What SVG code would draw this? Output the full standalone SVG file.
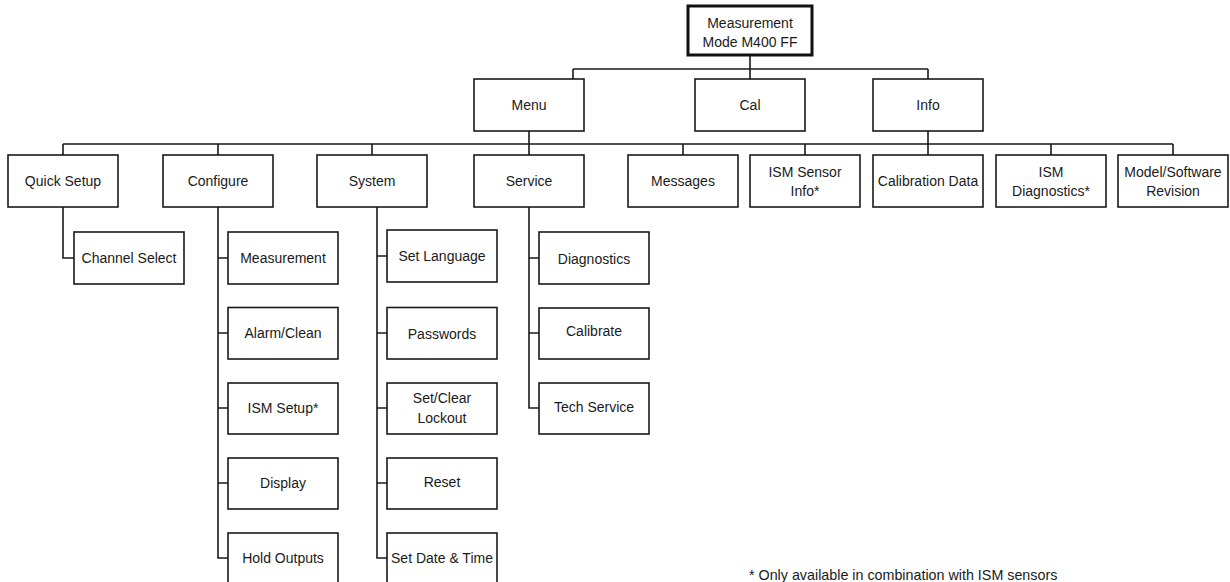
<svg xmlns="http://www.w3.org/2000/svg" width="1230" height="582" viewBox="0 0 1230 582">
<style>
.b{fill:#fff;stroke:#1a1a1a;stroke-width:1.6}
.top{fill:#fff;stroke:#111;stroke-width:3}
.t{font-family:"Liberation Sans",Arial,sans-serif;font-size:14px;fill:#1a1a1a;text-anchor:middle}
.c{fill:none;stroke:#1a1a1a;stroke-width:1.6}
.fn{font-family:"Liberation Sans",Arial,sans-serif;font-size:14.3px;fill:#1a1a1a}
</style>
<rect width="1230" height="582" fill="#fff"/>
<g id="connectors">
<path class="c" d="M750 55V69M573 69H928M573 69V79M750 69V79M928 69V79"/>
<path class="c" d="M529 131V144M928 131V144M63 144H1173M63 144V155M218 144V155M372 144V155M529 144V155M683 144V155M805 144V155M928 144V155M1051 144V155M1173 144V155"/>
<path class="c" d="M63 207V258H74"/>
<path class="c" d="M218 207V558H228M218 258H228M218 333H228M218 408H228M218 483H228"/>
<path class="c" d="M377 207V558H387M377 256H387M377 333H387M377 408H387M377 483H387"/>
<path class="c" d="M529 207V408H539M529 258H539M529 333H539"/>
</g>
<g id="n-measurement"><rect class="top" x="688" y="6" width="124" height="49"/><text class="t" x="750" y="28">Measurement</text><text class="t" x="750" y="47">Mode M400 FF</text></g>
<g id="n-menu"><rect class="b" x="474" y="79" width="110" height="52"/><text class="t" x="529" y="110">Menu</text></g>
<g id="n-cal"><rect class="b" x="695" y="79" width="110" height="52"/><text class="t" x="750" y="110">Cal</text></g>
<g id="n-info"><rect class="b" x="873" y="79" width="110" height="52"/><text class="t" x="928" y="110">Info</text></g>
<g id="n-quicksetup"><rect class="b" x="8" y="155" width="110" height="52"/><text class="t" x="63" y="186">Quick Setup</text></g>
<g id="n-configure"><rect class="b" x="163" y="155" width="110" height="52"/><text class="t" x="218" y="186">Configure</text></g>
<g id="n-system"><rect class="b" x="317" y="155" width="110" height="52"/><text class="t" x="372" y="186">System</text></g>
<g id="n-service"><rect class="b" x="474" y="155" width="110" height="52"/><text class="t" x="529" y="186">Service</text></g>
<g id="n-messages"><rect class="b" x="628" y="155" width="110" height="52"/><text class="t" x="683" y="186">Messages</text></g>
<g id="n-ismsensor"><rect class="b" x="750" y="155" width="110" height="52"/><text class="t" x="805" y="177">ISM Sensor</text><text class="t" x="805" y="196">Info*</text></g>
<g id="n-caldata"><rect class="b" x="873" y="155" width="110" height="52"/><text class="t" x="928" y="186">Calibration Data</text></g>
<g id="n-ismdiag"><rect class="b" x="996" y="155" width="110" height="52"/><text class="t" x="1051" y="177">ISM</text><text class="t" x="1051" y="196">Diagnostics*</text></g>
<g id="n-model"><rect class="b" x="1118" y="155" width="110" height="52"/><text class="t" x="1173" y="177">Model/Software</text><text class="t" x="1173" y="196">Revision</text></g>
<g id="n-channel"><rect class="b" x="74" y="232" width="110" height="52"/><text class="t" x="129" y="263">Channel Select</text></g>
<g id="n-measurement2"><rect class="b" x="228" y="232" width="110" height="52"/><text class="t" x="283" y="263">Measurement</text></g>
<g id="n-alarm"><rect class="b" x="228" y="307.5" width="110" height="51.5"/><text class="t" x="283" y="338">Alarm/Clean</text></g>
<g id="n-ismsetup"><rect class="b" x="228" y="383" width="110" height="51"/><text class="t" x="283" y="413">ISM Setup*</text></g>
<g id="n-display"><rect class="b" x="228" y="458" width="110" height="51"/><text class="t" x="283" y="488">Display</text></g>
<g id="n-hold"><rect class="b" x="228" y="533" width="110" height="52"/><text class="t" x="283" y="563">Hold Outputs</text></g>
<g id="n-lang"><rect class="b" x="387" y="230" width="110" height="52"/><text class="t" x="442" y="261">Set Language</text></g>
<g id="n-pass"><rect class="b" x="387" y="307.5" width="110" height="51.5"/><text class="t" x="442" y="339">Passwords</text></g>
<g id="n-lockout"><rect class="b" x="387" y="383" width="110" height="51"/><text class="t" x="442" y="403">Set/Clear</text><text class="t" x="442" y="423">Lockout</text></g>
<g id="n-reset"><rect class="b" x="387" y="458" width="110" height="51"/><text class="t" x="442" y="487">Reset</text></g>
<g id="n-datetime"><rect class="b" x="387" y="533" width="110" height="52"/><text class="t" x="442" y="563">Set Date &amp; Time</text></g>
<g id="n-diag"><rect class="b" x="539" y="232" width="110" height="52"/><text class="t" x="594" y="264">Diagnostics</text></g>
<g id="n-calibrate"><rect class="b" x="539" y="308" width="110" height="51"/><text class="t" x="594" y="336">Calibrate</text></g>
<g id="n-tech"><rect class="b" x="539" y="383" width="110" height="51"/><text class="t" x="594" y="412">Tech Service</text></g>
<text class="fn" x="749" y="580">* Only available in combination with ISM sensors</text>
</svg>
